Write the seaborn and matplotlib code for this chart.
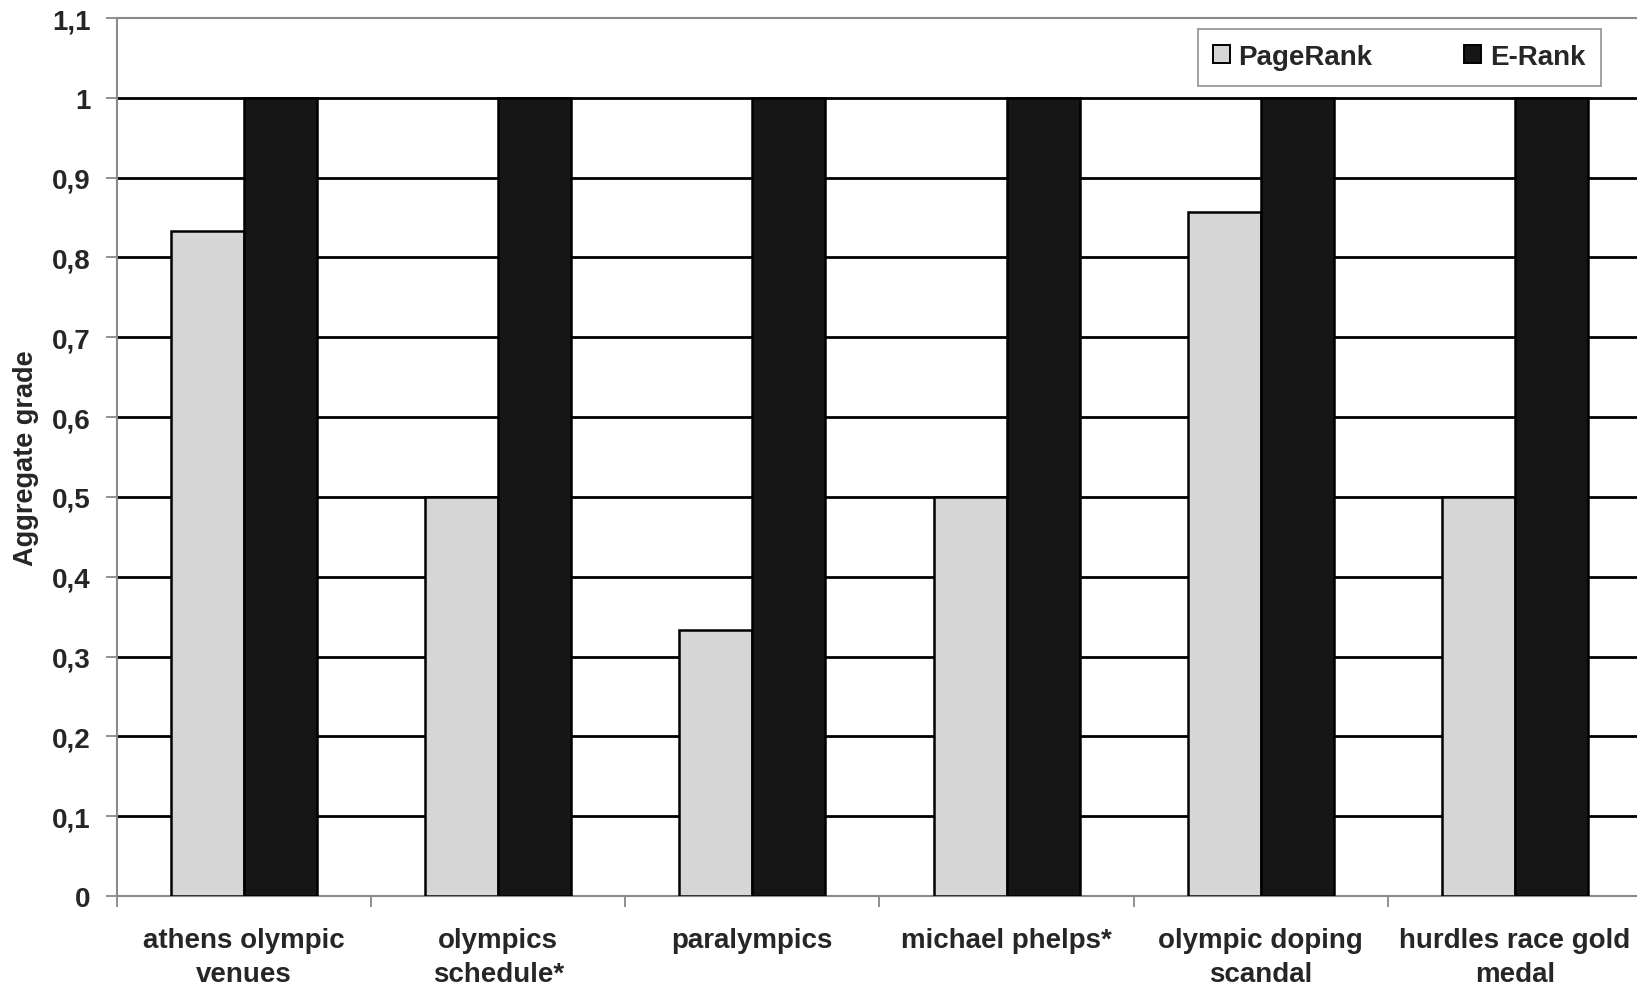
import numpy as np
import pandas as pd
import matplotlib
matplotlib.use("Agg")
import matplotlib.pyplot as plt
from matplotlib.ticker import FixedLocator, FuncFormatter
import seaborn as sns

# Data
queries = [
    "athens olympic\nvenues",
    "olympics\nschedule*",
    "paralympics",
    "michael phelps*",
    "olympic doping\nscandal",
    "hurdles race gold\nmedal",
]
pagerank = [0.833, 0.5, 0.333, 0.5, 0.857, 0.5]
erank = [1.0, 1.0, 1.0, 1.0, 1.0, 1.0]
methods = ["PageRank", "E-Rank"]
y_ticks = [0, 0.1, 0.2, 0.3, 0.4, 0.5, 0.6, 0.7, 0.8, 0.9, 1.0, 1.1]

df = pd.DataFrame({
    "query": queries * 2,
    "grade": pagerank + erank,
    "method": [methods[0]] * len(queries) + [methods[1]] * len(queries),
})

sns.set_style("white")
plt.rcParams["font.family"] = ["Liberation Sans", "DejaVu Sans"]
plt.rcParams["font.weight"] = "bold"

fig = plt.figure(figsize=(16.37, 9.87), dpi=100)
ax = fig.add_axes([117 / 1637, 90 / 987, 1525 / 1637, 878 / 987])

sns.barplot(
    data=df, x="query", y="grade", hue="method", order=queries, hue_order=methods,
    palette={"PageRank": "#d6d6d6", "E-Rank": "#161616"},
    width=0.575, gap=0, edgecolor="black", linewidth=1.8, saturation=1,
    errorbar=None, ax=ax, zorder=3,
)

ax.set_xlim(-0.5, len(queries) - 0.5)
ax.set_ylim(0, 1.1)

# horizontal reference lines between the axis limits
for v in y_ticks[1:-1]:
    ax.axhline(v, color="black", lw=2.0, zorder=1)

ax.yaxis.set_major_locator(FixedLocator(y_ticks))
ax.yaxis.set_major_formatter(
    FuncFormatter(lambda v, p: f"{round(v, 1):g}".replace(".", ","))
)

# category labels centred on groups, tick marks on group boundaries
ax.set_xticks(np.arange(len(queries) + 1) - 0.5)
ax.set_xticklabels([])
ax.set_xticks(np.arange(len(queries)), minor=True)
ax.set_xticklabels(queries, minor=True, fontsize=20, fontweight="bold",
                   linespacing=1.4)
ax.tick_params(axis="x", which="major", direction="out", length=8, width=1.3,
               color="#888888", bottom=True)
ax.tick_params(axis="x", which="minor", length=0, pad=22, bottom=True)
ax.tick_params(axis="y", direction="out", length=8, width=1.3, color="#888888",
               pad=11, labelsize=20, left=True)
for lab in ax.get_yticklabels():
    lab.set_fontweight("bold")

ax.set_xlabel("")
ax.set_ylabel("Aggregate grade", fontsize=19.5, fontweight="bold", labelpad=9)

for side in ["left", "top", "bottom"]:
    ax.spines[side].set_visible(True)
    ax.spines[side].set_color("#8a8a8a")
    ax.spines[side].set_linewidth(1.5)
ax.spines["right"].set_visible(False)

handles, labels = ax.get_legend_handles_labels()
leg = ax.legend(
    handles, labels, ncol=2, loc="upper center",
    bbox_to_anchor=(0.8407, 0.9875), borderaxespad=0,
    frameon=True, fancybox=False, edgecolor="#9a9a9a", framealpha=1,
    prop={"size": 20, "weight": "bold"},
    handlelength=0.62, handleheight=0.62, handletextpad=0.3,
    columnspacing=3.3, borderpad=0.55,
)
leg.get_frame().set_linewidth(1.3)
for h in leg.legend_handles:
    h.set_linewidth(1.4)
    h.set_edgecolor("black")

fig.savefig("out.png", dpi=100)
